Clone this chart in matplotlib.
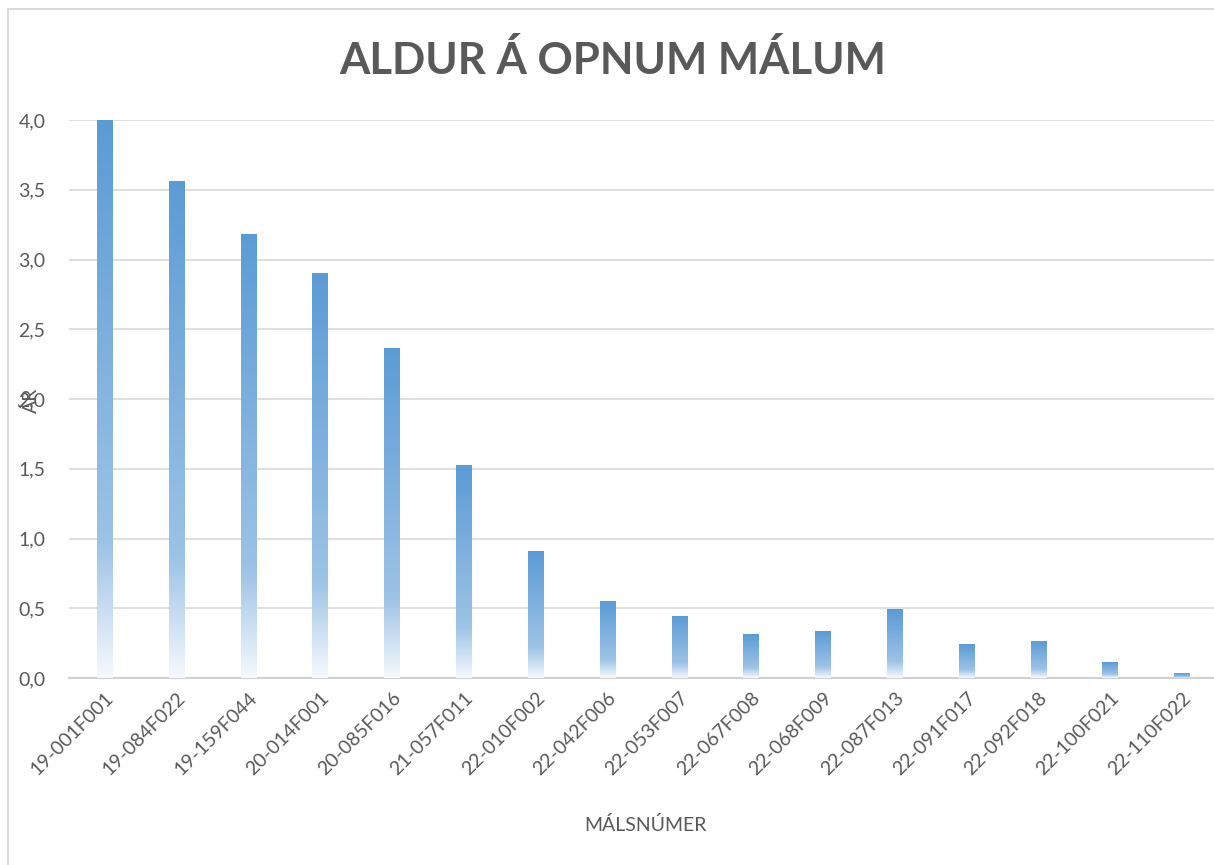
import numpy as np
import matplotlib.pyplot as plt
from matplotlib.colors import LinearSegmentedColormap
from matplotlib.patches import Rectangle

# case numbers and age in years
cases = ['19-001F001', '19-084F022', '19-159F044', '20-014F001', '20-085F016',
         '21-057F011', '22-010F002', '22-042F006', '22-053F007', '22-067F008',
         '22-068F009', '22-087F013', '22-091F017', '22-092F018', '22-100F021',
         '22-110F022']
years = [4.0, 3.56, 3.18, 2.90, 2.36, 1.52, 0.91, 0.55, 0.44, 0.31,
         0.33, 0.49, 0.24, 0.26, 0.11, 0.03]
yticks = [0.0, 0.5, 1.0, 1.5, 2.0, 2.5, 3.0, 3.5, 4.0]

plt.rcParams['font.family'] = ['Lato', 'DejaVu Sans']
txt = '#595959'

fig = plt.figure(figsize=(12.14, 8.65), dpi=100)
fig.patches.append(Rectangle((8 / 1214, -0.1), 1.2, 1.1 - 9 / 865, transform=fig.transFigure,
                             fill=False, edgecolor='#D9D9D9', linewidth=1.5))
ax = fig.add_axes([69 / 1214, 1 - 678 / 865, 1149 / 1214, 558 / 865])

# Excel-style gradient fill, solid at top fading to white at the base
cmap = LinearSegmentedColormap.from_list(
    'fade', [(0.0, '#F6F9FD'), (0.24, '#9DC3E6'), (1.0, '#5B9BD5')])
grad = np.linspace(0, 1, 256).reshape(-1, 1)
w = 0.22
for i, v in enumerate(years):
    ax.imshow(grad, extent=[i - w / 2, i + w / 2, 0, v], origin='lower',
              cmap=cmap, aspect='auto', interpolation='bilinear', zorder=3)

ax.set_xlim(-0.5, len(cases) - 0.5)
ax.set_ylim(0, 4.0)
ax.set_yticks(yticks)
ax.set_yticklabels([f'{t:.1f}'.replace('.', ',') for t in yticks])
ax.set_xticks(range(len(cases)))
ax.set_xticklabels(cases, rotation=45, ha='right', rotation_mode='anchor')
ax.grid(axis='y', color='#D9D9D9', linewidth=1.2, zorder=0)
ax.set_axisbelow(True)
for s in ['left', 'right', 'top']:
    ax.spines[s].set_visible(False)
ax.spines['bottom'].set_color('#D0D0D0')
ax.spines['bottom'].set_linewidth(1.5)
ax.tick_params(axis='y', length=0, pad=17, labelsize=14, labelcolor=txt)
ax.tick_params(axis='x', length=0, pad=8, labelsize=14, labelcolor=txt)

fig.text(613 / 1214, 1 - 60 / 865, 'ALDUR Á OPNUM MÁLUM', ha='center', va='center',
         fontsize=31.5, fontweight='bold', color=txt)
fig.text(645 / 1214, 1 - 825 / 865, 'MÁLSNÚMER', ha='center', va='center',
         fontsize=14, color=txt)
fig.text(31 / 1214, 1 - 400 / 865, 'ÁR', ha='center', va='center', rotation=90,
         fontsize=14, color=txt)

fig.savefig('out.png', dpi=100)
